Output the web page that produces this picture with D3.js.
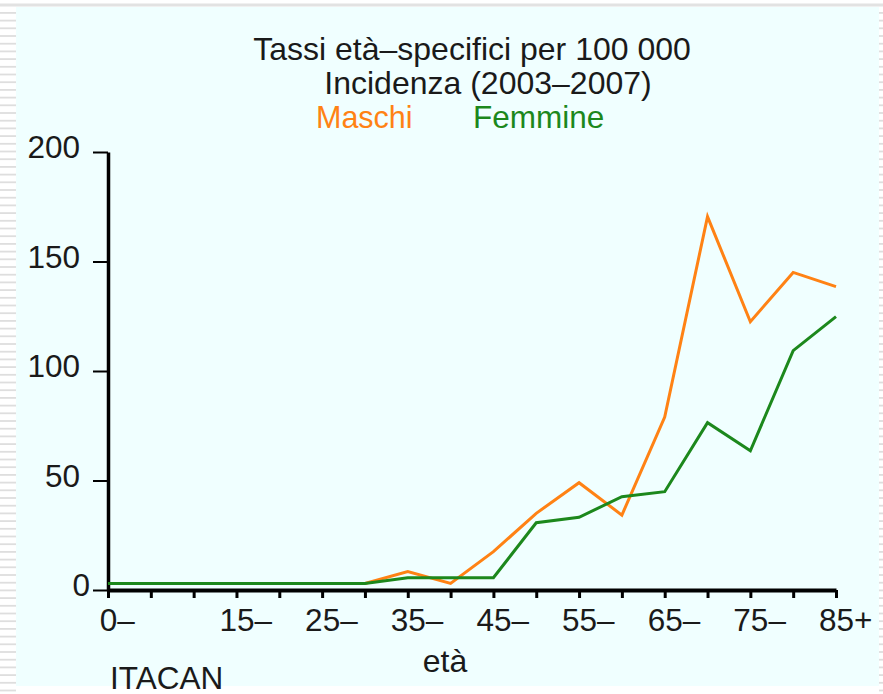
<!DOCTYPE html>
<html>
<head>
<meta charset="utf-8">
<script src="https://cdn.jsdelivr.net/npm/d3@7"></script>
<style>
  html, body { margin: 0; padding: 0; background: #fff; }
  svg { display: block; font-family: "Liberation Sans", Arial, sans-serif; }
</style>
</head>
<body>
<svg id="chart" width="883" height="694"></svg>
<script>
// age classes (5-year groups)
const ages = ["0–", "5–", "10–", "15–", "20–", "25–", "30–", "35–", "40–", "45–",
  "50–", "55–", "60–", "65–", "70–", "75–", "80–", "85+"];
const labelledAges = ["0–", "15–", "25–", "35–", "45–", "55–", "65–", "75–", "85+"];

// rates per 100 000
const maschi = [3, 3, 3, 3, 3, 3, 3, 8.4, 3, 17.5, 35, 49, 34.2, 79, 170.5, 122.5, 145, 138.5];
const femmine = [3, 3, 3, 3, 3, 3, 3, 5.6, 5.6, 5.6, 30.7, 33.2, 42.6, 44.9, 76.4, 63.6, 109.3, 124.8];

const yTicks = [0, 50, 100, 150, 200];

const orange = "#ff8214";
const green = "#1c881c";
const ink = "#1a1a1a";
const fs = 31.5;

const svg = d3.select("#chart");
const W = 883, H = 694;

// background panel + striped edges
svg.append("rect").attr("x", 0).attr("y", 0).attr("width", W).attr("height", H).attr("fill", "#fff");
svg.append("rect").attr("x", 0).attr("y", 3.5).attr("width", W).attr("height", 3).attr("fill", "#e2e2e2");
svg.append("rect").attr("x", 16).attr("y", 7).attr("width", 863).attr("height", 679).attr("fill", "#f0ffff");
for (let y = 12; y < H; y += 7.7) {
  svg.append("rect").attr("x", 0).attr("y", y).attr("width", 16).attr("height", 1.8).attr("fill", "#dedede");
  svg.append("rect").attr("x", 879).attr("y", y).attr("width", 4).attr("height", 1.8).attr("fill", "#dedede");
}

const x = d3.scalePoint().domain(ages).range([108, 836]);
const y = d3.scaleLinear().domain([0, 200]).range([590, 152]);

// y axis
const yAxis = svg.append("g")
  .attr("transform", "translate(108,0)")
  .call(d3.axisLeft(y).tickValues(yTicks).tickSize(15).tickSizeOuter(0).tickPadding(13));
yAxis.select(".domain").attr("stroke", "#000").attr("stroke-width", 3.5);
yAxis.selectAll(".tick line").attr("stroke", "#000").attr("stroke-width", 2);
yAxis.selectAll(".tick text")
  .attr("font-size", fs).attr("fill", ink)
  .attr("dy", "0.18em")
  .attr("dx", d => d === 0 ? 10 : 0);

// x axis
const xAxis = svg.append("g")
  .attr("transform", "translate(0,590)")
  .call(d3.axisBottom(x).tickSize(8).tickSizeOuter(0).tickPadding(11)
    .tickFormat(d => labelledAges.includes(d) ? d : ""));
xAxis.select(".domain").attr("stroke", "#000").attr("stroke-width", 4);
xAxis.selectAll(".tick line").attr("stroke", "#000").attr("stroke-width", 3);
xAxis.selectAll(".tick text")
  .attr("font-size", fs).attr("fill", ink)
  .attr("text-anchor", "start")
  .attr("dx", d => -(d.replace(/[–+]/g, "").length * 0.556 * fs) / 2);

// lines
const line = d3.line().x((d, i) => x(ages[i])).y(d => y(d));
svg.append("path").datum(maschi)
  .attr("fill", "none").attr("stroke", orange).attr("stroke-width", 3)
  .attr("d", line);
svg.append("path").datum(femmine)
  .attr("fill", "none").attr("stroke", green).attr("stroke-width", 3)
  .attr("d", line);

// titles
const txt = (s, tx, ty, fill, size, anchor) => svg.append("text")
  .attr("x", tx).attr("y", ty).attr("font-size", size)
  .attr("fill", fill).attr("text-anchor", anchor || "start").text(s);
txt("Tassi età–specifici per 100 000", 472, 60, ink, 32, "middle");
txt("Incidenza (2003–2007)", 488, 94, ink, 32, "middle");
txt("Maschi", 316, 128, orange, 30.5);
txt("Femmine", 473, 128, green, 31.5);
txt("età", 445, 672, ink, 32, "middle");
txt("ITACAN", 110, 689, ink, fs);
</script>
</body>
</html>
